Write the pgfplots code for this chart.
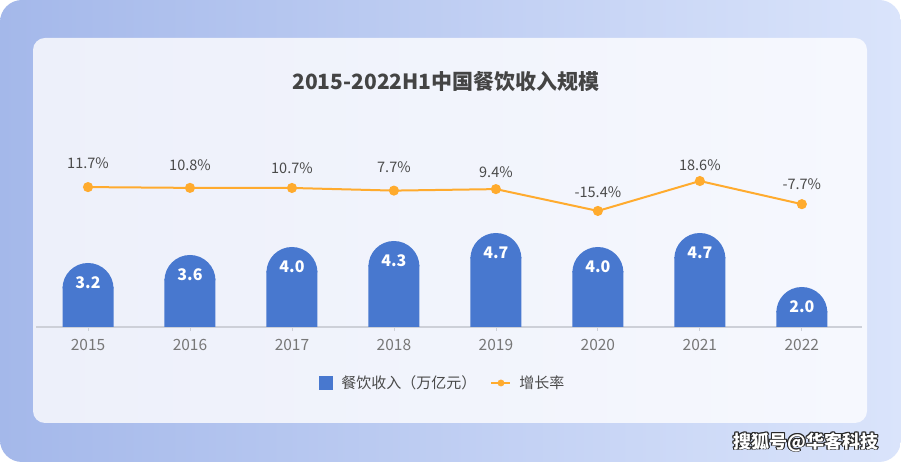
\documentclass[border=0pt]{standalone}
\usepackage{fontspec}
\setmainfont{Noto Sans CJK SC}
\usepackage{pgfplots}
\usepackage{pgfplotstable}
\pgfplotsset{compat=1.18}
\pgfplotsset{/pgf/number format/assume math mode=true}

\definecolor{barblue}{HTML}{4878CF}
\definecolor{lineorange}{HTML}{FFAB2E}
\definecolor{titlegray}{HTML}{444444}
\definecolor{tickgray}{HTML}{777777}
\definecolor{labelgray}{HTML}{4A4A4A}
\definecolor{bgA}{HTML}{A4B8EA}
\definecolor{bgB}{HTML}{DAE4FB}
\definecolor{cardA}{HTML}{EDF0FA}
\definecolor{cardB}{HTML}{F6F8FE}
\definecolor{axisgray}{HTML}{CDD0D8}

% round cap for the bars (radius = half the bar width)
\pgfdeclareplotmark{halfdisc}{%
  \pgfpathmoveto{\pgfqpoint{-25.5pt}{0pt}}%
  \pgfpatharc{180}{0}{25.5pt}%
  \pgfpathclose
  \pgfusepathqfill}

% revenue, 万亿元
\pgfplotstableread{
x v
0 3.2
1 3.6
2 4.0
3 4.3
4 4.7
5 4.0
6 4.7
7 2.0
}\revenue

% growth rate, %, dy = label offset
\pgfplotstableread{
x g dy
0 11.7 24
1 10.8 23
2 10.7 20
3 7.7 23
4 9.4 17
5 -15.4 19
6 18.6 16
7 -7.7 20
}\growth

\begin{document}
\begin{tikzpicture}[x=1pt,y=1pt]
\path[use as bounding box] (0,0) rectangle (901,462);
\fill[white] (0,0) rectangle (901,462);
\shade[left color=bgA, right color=bgB, rounded corners=22pt] (0,0) rectangle (901,462);
\shade[left color=cardA, right color=cardB, rounded corners=12pt] (33,39) rectangle (867,424);

\node[font=\fontsize{21}{25}\selectfont\bfseries, text=titlegray] at (446,380) {2015-2022H1中国餐饮收入规模};

\begin{axis}[
  at={(36pt,135pt)}, anchor=south west,
  scale only axis, width=826pt, height=200pt,
  xmin=-0.51, xmax=7.59, ymin=0, ymax=10,
  axis y line=none, axis x line*=bottom,
  x axis line style={-, draw=axisgray, line width=1.5pt},
  xtick={0,...,7},
  xticklabels={2015,2016,2017,2018,2019,2020,2021,2022},
  tick align=outside, major tick length=4pt,
  xtick style={draw=axisgray, line width=0.8pt},
  xticklabel style={font=\fontsize{15.5}{18}\selectfont, text=tickgray, yshift=-5pt},
  legend columns=2,
  legend style={at={(0.4927,-0.28)}, anchor=center, draw=none, fill=none,
    font=\fontsize{15}{18}\selectfont, text=labelgray,
    /tikz/every odd column/.append style={column sep=6pt},
    /tikz/every even column/.append style={column sep=12pt}},
]
% bar body up to the start of the cap (cap radius 25.5pt = 1.275 units)
\addplot[ybar, bar width=51pt, fill=barblue, draw=none,
  legend image code/.code={\fill[barblue] (0pt,-7pt) rectangle (14pt,7pt);}
] table[x=x, y expr=\thisrow{v}-1.2] {\revenue};
\addlegendentry{餐饮收入（万亿元）}
\addplot[forget plot, only marks, mark=halfdisc, color=barblue,
  mark options={fill=barblue, draw=none},
  point meta=\thisrow{v},
  nodes near coords={\pgfmathprintnumber[fixed,fixed zerofill,precision=1]{\pgfplotspointmeta}},
  every node near coord/.append style={anchor=center, yshift=5.5pt, text=white,
    font=\fontsize{16}{18}\selectfont\bfseries}
] table[x=x, y expr=\thisrow{v}-1.275] {\revenue};
\addlegendimage{legend image code/.code={
  \draw[lineorange, line width=2pt] (0pt,0pt) -- (19pt,0pt);
  \fill[lineorange] (9.5pt,0pt) circle (3.2pt);}}
\addlegendentry{增长率}
\end{axis}

\begin{axis}[
  at={(36pt,135pt)}, anchor=south west,
  scale only axis, width=826pt, height=200pt,
  xmin=-0.51, xmax=7.59, ymin=-147.3, ymax=80,
  hide axis, clip=false,
]
\addplot[lineorange, line width=2pt, mark=*, mark size=4pt,
  mark options={fill=lineorange, draw=none},
  visualization depends on={\thisrow{dy}\as\dy},
  nodes near coords={\pgfmathprintnumber[fixed,fixed zerofill,precision=1]{\pgfplotspointmeta}\%},
  every node near coord/.append style={anchor=center, yshift=\dy, text=labelgray,
    font=\fontsize{14.5}{17}\selectfont}
] table[x=x, y=g] {\growth};
\end{axis}

\foreach \dx/\dy in {-0.8/0,0.8/0,0/0.8,0/-0.8,0.8/-0.8,-0.8/0.8,0.8/0.8,-0.8/-0.8}
  \node[font=\fontsize{18}{20}\selectfont\bfseries, text=black!85] at (806+\dx,20+\dy) {搜狐号@华客科技};
\node[font=\fontsize{18}{20}\selectfont\bfseries, text=white] at (806,20) {搜狐号@华客科技};
\end{tikzpicture}
\end{document}
